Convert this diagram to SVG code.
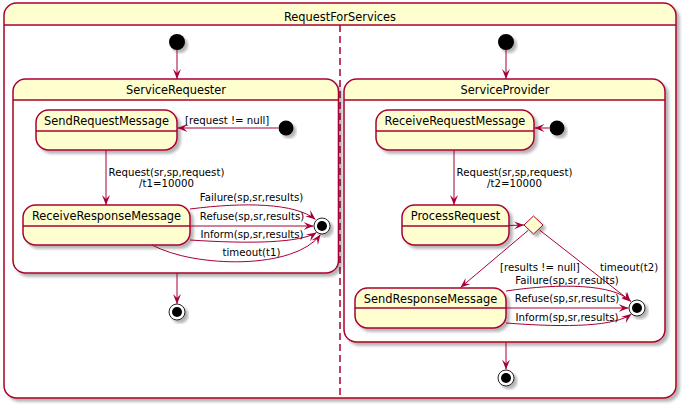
<svg xmlns="http://www.w3.org/2000/svg" width="685" height="407" viewBox="0 0 685 407">
<style>
.box{fill:#FEFECE;stroke:#A80036;stroke-width:1.5}
.sep{stroke:#A80036;stroke-width:1.5;fill:none}
.body{fill:#FFFFFF;stroke:none}
.name{font-family:"DejaVu Sans",sans-serif;font-size:11.4px;fill:#000;text-anchor:middle}
.lbl{font-family:"DejaVu Sans",sans-serif;font-size:10.2px;fill:#000}
.mid{text-anchor:middle}
.conn path,.conn line{stroke:#A80036;stroke-width:1;fill:none;marker-end:url(#ah)}
.start{fill:#000}
.endo{fill:#fff;stroke:#222;stroke-width:1}
.endi{fill:#000}
</style>
<defs>
<marker id="ah" markerUnits="userSpaceOnUse" markerWidth="10" markerHeight="8" refX="10" refY="4" orient="auto" viewBox="0 0 10 8">
<path d="M0,0 L10,4 L0,8 L4,4 z" fill="#A80036"/>
</marker>
<filter id="sh" x="-10%" y="-10%" width="130%" height="130%">
<feGaussianBlur in="SourceAlpha" stdDeviation="1.5"/>
<feOffset dx="3" dy="3" result="b"/>
<feComponentTransfer><feFuncA type="linear" slope="0.3"/></feComponentTransfer>
<feMerge><feMergeNode/><feMergeNode in="SourceGraphic"/></feMerge>
</filter>
</defs>

<g id="RequestForServices">
<rect class="box" x="4" y="3" width="672" height="395" rx="12.5" filter="url(#sh)"/>
<path class="body" d="M5.5,26 H674.5 V385 Q674.5,396.5 663,396.5 H17 Q5.5,396.5 5.5,385 Z"/>
<line class="sep" x1="4" y1="25" x2="676" y2="25"/>
<text class="name" x="340" y="21">RequestForServices</text>
<line x1="340" y1="25" x2="340" y2="398" stroke="#A80036" stroke-width="1.5" stroke-dasharray="7,4"/>
</g>

<g id="ServiceRequester">
<rect class="box" x="13" y="79" width="325.5" height="194" rx="12.5" filter="url(#sh)"/>
<path class="body" d="M14.5,101 H337 V261 Q337,271.5 326,271.5 H25.5 Q14.5,271.5 14.5,261 Z"/>
<line class="sep" x1="13" y1="100" x2="338.5" y2="100"/>
<text class="name" x="176" y="94">ServiceRequester</text>
</g>

<g id="ServiceProvider">
<rect class="box" x="344" y="79" width="321" height="263" rx="12.5" filter="url(#sh)"/>
<path class="body" d="M345.5,101 H663.5 V330 Q663.5,340.5 652.5,340.5 H356.5 Q345.5,340.5 345.5,330 Z"/>
<line class="sep" x1="344" y1="100" x2="665" y2="100"/>
<text class="name" x="505" y="94">ServiceProvider</text>
</g>

<g id="startL"><circle class="start" cx="177" cy="42" r="8" filter="url(#sh)"/></g>
<g id="startR"><circle class="start" cx="506" cy="42" r="8" filter="url(#sh)"/></g>

<g id="SendRequestMessage">
<rect class="box" x="36" y="110" width="141" height="40" rx="12.5" filter="url(#sh)"/>
<line class="sep" x1="36" y1="131" x2="177" y2="131"/>
<text class="name" x="106.5" y="125">SendRequestMessage</text>
</g>
<g id="startSR"><circle class="start" cx="286" cy="128" r="7.5" filter="url(#sh)"/></g>

<g id="ReceiveResponseMessage">
<rect class="box" x="23" y="205" width="167" height="40" rx="12.5" filter="url(#sh)"/>
<line class="sep" x1="23" y1="226" x2="190" y2="226"/>
<text class="name" x="106.5" y="220">ReceiveResponseMessage</text>
</g>

<g id="endSR"><circle class="endo" cx="322" cy="226" r="8" filter="url(#sh)"/><circle class="endi" cx="322" cy="226" r="5"/></g>
<g id="endL"><circle class="endo" cx="177" cy="312" r="8" filter="url(#sh)"/><circle class="endi" cx="177" cy="312" r="5"/></g>

<g id="ReceiveRequestMessage">
<rect class="box" x="376" y="110" width="158" height="40" rx="12.5" filter="url(#sh)"/>
<line class="sep" x1="376" y1="131" x2="534" y2="131"/>
<text class="name" x="455" y="125">ReceiveRequestMessage</text>
</g>
<g id="startSP"><circle class="start" cx="557" cy="128" r="7.5" filter="url(#sh)"/></g>

<g id="ProcessRequest">
<rect class="box" x="402" y="205" width="107" height="40" rx="12.5" filter="url(#sh)"/>
<line class="sep" x1="402" y1="226" x2="509" y2="226"/>
<text class="name" x="455.5" y="220">ProcessRequest</text>
</g>

<g id="choice">
<polygon class="box" points="533.5,216 543,225 533.5,234 524,225" style="stroke-width:1" filter="url(#sh)"/>
</g>

<g id="SendResponseMessage">
<rect class="box" x="355" y="288" width="151" height="40" rx="12.5" filter="url(#sh)"/>
<line class="sep" x1="355" y1="308" x2="506" y2="308"/>
<text class="name" x="430.5" y="303">SendResponseMessage</text>
</g>

<g id="endSP"><circle class="endo" cx="637" cy="308" r="8" filter="url(#sh)"/><circle class="endi" cx="637" cy="308" r="5"/></g>
<g id="endR"><circle class="endo" cx="506" cy="378" r="8" filter="url(#sh)"/><circle class="endi" cx="506" cy="378" r="5"/></g>

<g id="connectors" class="conn">
<line x1="177" y1="50" x2="177" y2="79"/>
<line x1="506" y1="50" x2="506" y2="79"/>
<line x1="278" y1="128" x2="177.5" y2="128"/>
<line x1="106" y1="150" x2="106" y2="205"/>
<path d="M190,209 C245,202 295,203 315.5,219.5"/>
<line x1="190" y1="226" x2="313.5" y2="226"/>
<path d="M190,240 C250,244 300,243 316.5,232.5"/>
<path d="M152,245 C195,268 295,270 320.5,234.5"/>
<line x1="177" y1="273" x2="177" y2="304"/>
<line x1="549" y1="128" x2="534.5" y2="128"/>
<line x1="454" y1="150" x2="454" y2="205"/>
<line x1="509" y1="225.5" x2="524" y2="225"/>
<line x1="528" y1="230.5" x2="460.5" y2="287.5"/>
<line x1="539.5" y1="230" x2="631" y2="301.5"/>
<path d="M506,291 C560,283 615,284 630.5,301.5"/>
<line x1="506" y1="308" x2="628.5" y2="308"/>
<path d="M506,323 C570,328 615,326 631.5,314"/>
<line x1="506" y1="342" x2="506" y2="369.5"/>
</g>

<g id="labels">
<text class="lbl" x="185" y="124">[request != null]</text>
<text class="lbl mid" x="166.5" y="176">Request(sr,sp,request)</text>
<text class="lbl mid" x="166.5" y="187">/t1=10000</text>
<text class="lbl mid" x="251.5" y="201">Failure(sp,sr,results)</text>
<text class="lbl mid" x="252" y="220">Refuse(sp,sr,results)</text>
<text class="lbl mid" x="252" y="238">Inform(sp,sr,results)</text>
<text class="lbl mid" x="251.5" y="256">timeout(t1)</text>
<text class="lbl mid" x="514.5" y="176">Request(sr,sp,request)</text>
<text class="lbl mid" x="514.5" y="187">/t2=10000</text>
<text class="lbl" x="500" y="271">[results != null]</text>
<text class="lbl" x="600" y="271">timeout(t2)</text>
<text class="lbl mid" x="567" y="284">Failure(sp,sr,results)</text>
<text class="lbl mid" x="567" y="302">Refuse(sp,sr,results)</text>
<text class="lbl mid" x="567" y="321">Inform(sp,sr,results)</text>
</g>
</svg>
